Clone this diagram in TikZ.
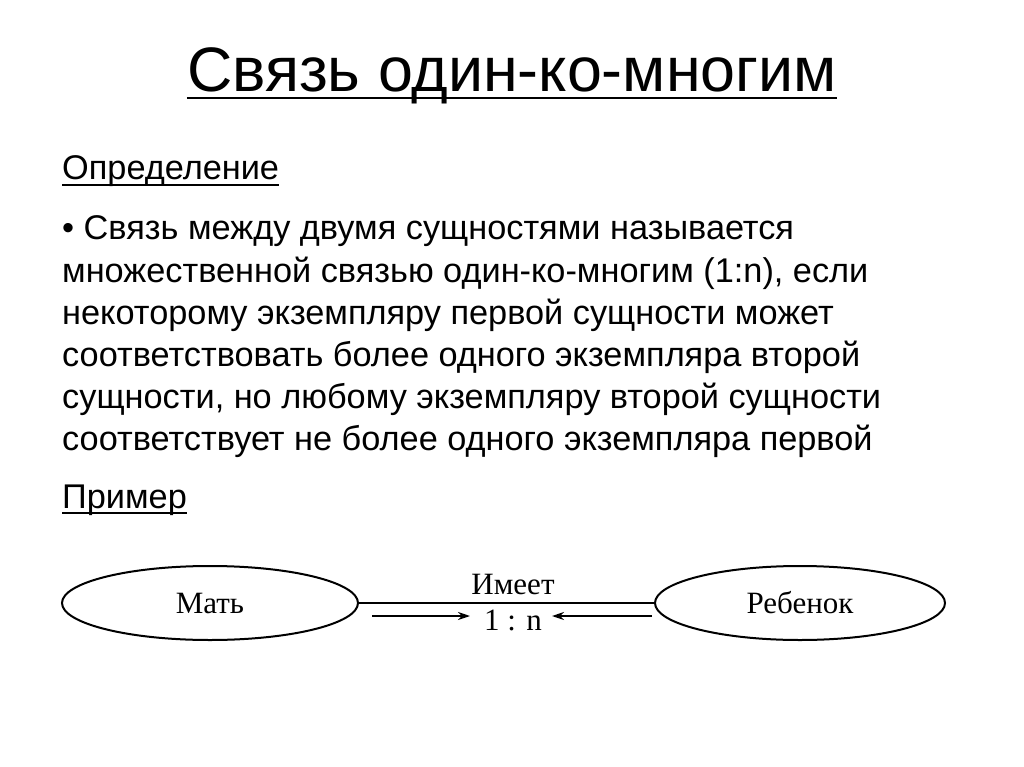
\documentclass[tikz,border=0pt]{standalone}
\usepackage{fontspec}
\setmainfont{Liberation Sans}
\newfontfamily\serifx{Liberation Serif}
\usetikzlibrary{arrows.meta,shapes.geometric}
\begin{document}
\begin{tikzpicture}[x=1pt,y=-1pt,
  body/.style={anchor=base west,inner sep=0pt,font=\fontsize{34.3}{42}\selectfont},
  ent/.style={draw,line width=2pt,ellipse,inner sep=0pt},
  dtext/.style={font=\serifx\fontsize{31}{36}\selectfont,inner sep=0pt,anchor=base},
  arr/.style={line width=2pt,-{Stealth[length=12pt,width=8pt]}}]
\useasboundingbox (0,0) rectangle (1024,767);
\node[anchor=base,inner sep=0pt,font=\fontsize{62.8}{70}\selectfont] (title) at (512,92) {Связь один-ко-многим};
\draw[line width=1.6pt] ([yshift=-6pt]title.base west) -- ([yshift=-6pt]title.base east);
\node[body] (def) at (62,180) {Определение};
\draw[line width=1.4pt] ([yshift=-5pt]def.base west) -- ([yshift=-5pt]def.base east);
\node[body] (l1) at (62,240) {• Связь между двумя сущностями называется};
\node[body] (l2) at (62,282) {множественной связью один-ко-многим (1:n), если};
\node[body] (l3) at (62,324) {некоторому экземпляру первой сущности может};
\node[body] (l4) at (62,366) {соответствовать более одного экземпляра второй};
\node[body] (l5) at (62,408) {сущности, но любому экземпляру второй сущности};
\node[body] (l6) at (62,450) {соответствует не более одного экземпляра первой};
\node[body] (ex) at (62,508) {Пример};
\draw[line width=1.4pt] ([yshift=-5pt]ex.base west) -- ([yshift=-5pt]ex.base east);
\node[ent,minimum width=296pt,minimum height=74pt,font=\serifx\fontsize{31}{36}\selectfont] (m) at (210,603) {Мать};
\node[ent,minimum width=290pt,minimum height=74pt,font=\serifx\fontsize{31}{36}\selectfont] (r) at (800,603) {Ребенок};
\draw[line width=2pt] (m.east) -- (r.west);
\node[dtext] (has) at (513,594) {Имеет};
\node[dtext] (rat) at (513,630) {1 : n};
\coordinate (a1) at (372,616); \coordinate (a2) at (470,616);
\coordinate (b1) at (652,616); \coordinate (b2) at (552,616);
\draw[arr] (a1) -- (a2);
\draw[arr] (b1) -- (b2);
\end{tikzpicture}
\end{document}
